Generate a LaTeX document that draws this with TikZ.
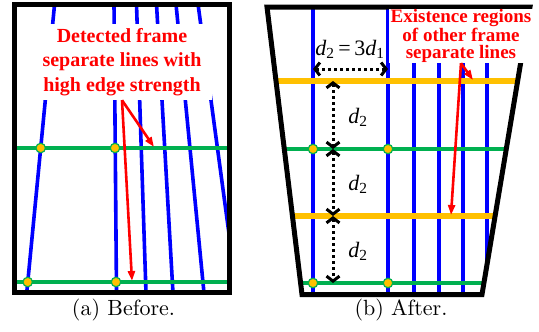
\documentclass[tikz,border=0pt]{standalone}
\usepackage{fontspec}
\newfontfamily\figserif{Liberation Serif}
\newfontfamily\capfont{lmroman10-regular}[Extension=.otf]
\usetikzlibrary{arrows.meta}
\definecolor{sepblue}{RGB}{0,0,255}
\definecolor{rowgreen}{RGB}{0,176,80}
\definecolor{roworange}{RGB}{255,192,0}
\definecolor{notered}{RGB}{255,0,0}
\tikzset{
  sepline/.style={draw=sepblue, line width=3.6pt},
  gline/.style={draw=rowgreen, line width=4pt},
  oline/.style={draw=roworange, line width=5.5pt},
  frameline/.style={draw=black, line width=5pt},
  crossdot/.style={draw=rowgreen, fill=roworange, circle, line width=1.2pt, inner sep=0pt, minimum size=9.5pt},
  note/.style={fill=white, align=center, text=notered, inner sep=0pt},
  notearrow/.style={-{Triangle[length=10pt,width=7pt]}, draw=notered, line width=2.6pt},
  dimarrow/.style={{Straight Barb[length=5pt,width=13pt]}-{Straight Barb[length=5pt,width=13pt]}, line width=3pt, dash pattern=on 3pt off 3pt},
  dimlabel/.style={font=\figserif\fontsize{22}{25}\selectfont, inner sep=0pt},
  subcap/.style={font=\capfont\fontsize{22}{26}\selectfont, anchor=base}
}
\newcommand{\dsub}[1]{\textit{d}\textsubscript{#1}}

\begin{document}
\begin{tikzpicture}[x=1pt,y=-1pt]
  \useasboundingbox (0,0) rectangle (539,332);

  % (a) before
  \begin{scope}
    \clip (14.5,4) rectangle (229,292.5);
    \draw[sepline] (54.6,4) -- (26.7,293);
    \draw[sepline] (114,4) -- (116.5,293);
    \draw[sepline] (136.5,4) -- (146,293);
    \draw[sepline] (156.5,4) -- (173,293);
    \draw[sepline] (176,4) -- (204,293);
    \draw[sepline] (198,4) -- (237,293);
    \draw[gline] (10,148) -- (235,148);
    \draw[gline] (10,282) -- (235,282);
  \end{scope}
  \node[crossdot] (a11) at (40.7,148) {};
  \node[crossdot] (a12) at (115,148) {};
  \node[crossdot] (a21) at (27.7,282) {};
  \node[crossdot] (a22) at (116,282) {};
  \draw[frameline] (14.5,4) rectangle (229,292.5);
  \node[note, font=\figserif\bfseries\fontsize{20}{24.5}\selectfont,
        minimum width=180pt, minimum height=76pt] (anote) at (122,62)
        {Detected frame\\separate lines with\\high edge strength};
  \coordinate (ahit1) at (154,147);
  \coordinate (ahit2) at (132,281);
  \draw[notearrow] (anote.south) -- (ahit1);
  \draw[notearrow] (anote.south) -- (ahit2);

  % (b) after
  \begin{scope}
    \clip (267,7) -- (530,7) -- (482,294.5) -- (302,294.5) -- cycle;
    \draw[sepline] (313,0) -- (313,300);
    \draw[sepline] (388,0) -- (388,300);
    \draw[sepline] (414,0) -- (414,300);
    \draw[sepline] (439,0) -- (439,300);
    \draw[sepline] (463,0) -- (463,300);
    \draw[sepline] (487,0) -- (487,300);
    \draw[oline] (260,81) -- (539,81);
    \draw[gline] (260,149) -- (539,149);
    \draw[oline] (260,216) -- (539,216);
    \draw[gline] (260,283) -- (539,283);
  \end{scope}
  \node[crossdot] (b11) at (313,149) {};
  \node[crossdot] (b12) at (388,149) {};
  \node[crossdot] (b21) at (313,283) {};
  \node[crossdot] (b22) at (388,283) {};
  \draw[frameline] (267,7) -- (530,7) -- (482,294.5) -- (302,294.5) -- cycle;
  \node[note, font=\figserif\bfseries\fontsize{19}{17.5}\selectfont,
        minimum width=145pt, minimum height=54pt] (bnote) at (461,36)
        {Existence regions\\of other frame\\separate lines};
  \coordinate (bhit1) at (473,80);
  \coordinate (bhit2) at (451,215);
  \draw[notearrow] (bnote.south) -- (bhit1);
  \draw[notearrow] (bnote.south) -- (bhit2);

  % spacing marks
  \coordinate (hl) at (313,69);
  \coordinate (hr) at (388,69);
  \coordinate (v0) at (333,81);
  \coordinate (v1) at (333,149);
  \coordinate (v2) at (333,216);
  \coordinate (v3) at (333,283);
  \draw[dimarrow] (hl) -- (hr);
  \draw[dimarrow] (v0) -- (v1);
  \draw[dimarrow] (v1) -- (v2);
  \draw[dimarrow] (v2) -- (v3);
  \node[dimlabel] (dtop) at (350,49) {\dsub{2}\,=\,3\dsub{1}};
  \node[dimlabel] (d01) at (358,117) {\dsub{2}};
  \node[dimlabel] (d12) at (358,184) {\dsub{2}};
  \node[dimlabel] (d23) at (358,251) {\dsub{2}};

  % captions
  \node[subcap] (capa) at (123.5,315) {(a) Before.};
  \node[subcap] (capb) at (401,315) {(b) After.};
\end{tikzpicture}
\end{document}
